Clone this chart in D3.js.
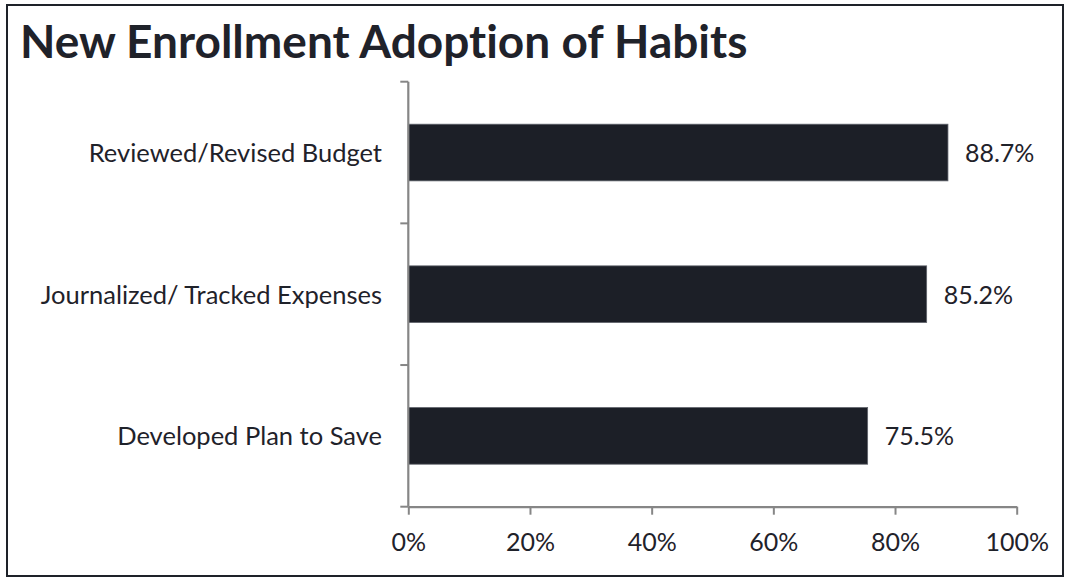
<!DOCTYPE html>
<html>
<head>
<meta charset="utf-8">
<script src="https://cdn.jsdelivr.net/npm/d3@7"></script>
<style>
  html, body { margin: 0; padding: 0; background: #ffffff; }
  svg { display: block; }
  text { font-family: Lato, "Open Sans", sans-serif; fill: #1f222a; font-variant-ligatures: none; }
</style>
</head>
<body>
<script>
// Chart data
const title = "New Enrollment Adoption of Habits";
const categories = ["Reviewed/Revised Budget", "Journalized/ Tracked Expenses", "Developed Plan to Save"];
const values = [88.7, 85.2, 75.5];
const tickValues = [0, 20, 40, 60, 80, 100];

const W = 1066, H = 580;
const plot = { left: 408.3, right: 1016.7, top: 81.7, bottom: 506.7 };

const svg = d3.select("body").append("svg")
  .attr("width", W).attr("height", H);

// Outer frame
svg.append("rect")
  .attr("x", 7).attr("y", 5)
  .attr("width", 1056).attr("height", 571)
  .attr("fill", "#ffffff")
  .attr("stroke", "#1e2229").attr("stroke-width", 2);

// Title
svg.append("text")
  .attr("x", 20).attr("y", 58)
  .attr("font-size", 46).attr("font-weight", 700)
  .text(title);

const x = d3.scaleLinear().domain([0, 100]).range([plot.left, plot.right]);
const y = d3.scaleBand().domain(categories)
  .range([plot.top, plot.bottom])
  .paddingInner(0.6).paddingOuter(0.3);

const axisColor = "#868686";

// Bars
svg.append("g").selectAll("rect")
  .data(categories)
  .join("rect")
  .attr("x", x(0))
  .attr("y", d => y(d))
  .attr("width", (d, i) => x(values[i]) - x(0))
  .attr("height", y.bandwidth())
  .attr("fill", "#1c1f27")
  .attr("stroke", "#5f636b").attr("stroke-width", 0.8);

// Value labels
svg.append("g").selectAll("text")
  .data(categories)
  .join("text")
  .attr("x", (d, i) => x(values[i]) + 17)
  .attr("y", d => y(d) + y.bandwidth() / 2 + 9.5)
  .attr("font-size", 25)
  .text((d, i) => values[i].toFixed(1) + "%");

// X axis
const xAxis = svg.append("g")
  .attr("transform", `translate(0,${plot.bottom})`)
  .call(d3.axisBottom(x).tickValues(tickValues)
    .tickFormat(d => d + "%").tickSizeInner(8).tickSizeOuter(0).tickPadding(18));
xAxis.select(".domain").attr("stroke", axisColor).attr("stroke-width", 2.2);
xAxis.selectAll(".tick line").attr("stroke", axisColor).attr("stroke-width", 2);
xAxis.selectAll(".tick text")
  .attr("font-size", 25).attr("font-family", "Lato, sans-serif").attr("fill", "#1f222a")
  .attr("dy", null).attr("y", 44);

// Y axis: line with boundary ticks between categories
const yAxis = svg.append("g");
yAxis.append("line")
  .attr("x1", plot.left).attr("x2", plot.left)
  .attr("y1", plot.top).attr("y2", plot.bottom)
  .attr("stroke", axisColor).attr("stroke-width", 2.2);
const boundaries = d3.range(categories.length + 1)
  .map(i => plot.top + i * y.step());
yAxis.selectAll("line.b")
  .data(boundaries)
  .join("line").attr("class", "b")
  .attr("x1", plot.left - 8).attr("x2", plot.left)
  .attr("y1", d => d).attr("y2", d => d)
  .attr("stroke", axisColor).attr("stroke-width", 2);

// Category labels
yAxis.selectAll("text")
  .data(categories)
  .join("text")
  .attr("x", 382)
  .attr("y", d => y(d) + y.bandwidth() / 2 + 9.5)
  .attr("text-anchor", "end")
  .attr("font-size", 25.5)
  .text(d => d);
</script>
</body>
</html>
